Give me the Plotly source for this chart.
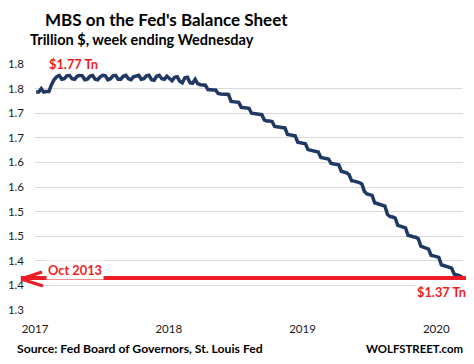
import pandas as pd
import plotly.graph_objects as go

# ---- data (trillion $, weekly, Wednesdays) ----
start_date = "2017-01-04"
mbs_values = [
    # 2017
    1.743, 1.743, 1.750, 1.743,
    1.744, 1.744, 1.758, 1.768,
    1.774, 1.777, 1.769, 1.770, 1.776,
    1.777, 1.770, 1.769, 1.775,
    1.777, 1.776, 1.768, 1.769, 1.775,
    1.777, 1.769, 1.768, 1.774,
    1.777, 1.776, 1.768, 1.770,
    1.776, 1.777, 1.769, 1.769, 1.775,
    1.777, 1.770, 1.768, 1.774,
    1.776, 1.777, 1.769, 1.770,
    1.776, 1.777, 1.768, 1.767, 1.775,
    1.777, 1.770, 1.769, 1.775,
    # 2018
    1.770, 1.766, 1.773, 1.774, 1.765,
    1.762, 1.772, 1.773, 1.762,
    1.761, 1.769, 1.760, 1.758,
    1.758, 1.757, 1.748, 1.747,
    1.747, 1.747, 1.740, 1.739, 1.739,
    1.739, 1.738, 1.724, 1.723,
    1.723, 1.722, 1.712, 1.711,
    1.711, 1.710, 1.700, 1.699, 1.699,
    1.698, 1.697, 1.686, 1.684,
    1.684, 1.683, 1.673, 1.672, 1.672,
    1.671, 1.670, 1.657, 1.656,
    1.655, 1.654, 1.641, 1.640,
    # 2019
    1.639, 1.638, 1.626, 1.625, 1.624,
    1.623, 1.621, 1.610, 1.609,
    1.608, 1.607, 1.598, 1.597,
    1.596, 1.595, 1.582, 1.580,
    1.579, 1.575, 1.563, 1.562, 1.561,
    1.559, 1.556, 1.541, 1.536,
    1.534, 1.533, 1.518, 1.516, 1.515,
    1.513, 1.511, 1.494, 1.490,
    1.489, 1.487, 1.472, 1.470,
    1.469, 1.467, 1.452, 1.450, 1.449,
    1.448, 1.445, 1.430, 1.427,
    1.426, 1.424, 1.411, 1.410,
    # 2020
    1.409, 1.407, 1.392, 1.390, 1.388,
    1.387, 1.385, 1.373, 1.372,
    1.370, 1.367,
]
dates = pd.date_range(start=start_date, periods=len(mbs_values), freq="W-WED")

y_tick_vals = [1.30, 1.35, 1.40, 1.45, 1.50, 1.55, 1.60, 1.65, 1.70, 1.75, 1.80]
y_tick_text = ["1.3", "1.4", "1.4", "1.5", "1.5", "1.6", "1.6", "1.7", "1.7", "1.8", "1.8"]
x_tick_vals = ["2017-01-01", "2018-01-01", "2019-01-01", "2020-01-01"]
x_tick_text = ["2017", "2018", "2019", "2020"]

oct2013_level = 1.365
peak_label = "$1.77 Tn"
last_label = "$1.37 Tn"

# ---- layout geometry (page has an 8px body margin) ----
OFF = 8
SW, SH = 474, 364
W, H = SW - OFF, SH - OFF
L, R, T, B = 35 - OFF, 11, 64 - OFF, 54
PW, PH = W - L - R, H - T - B

def px(x):  # screen x -> paper
    return (x - OFF - L) / PW

def py(y):  # screen y -> paper
    return (H - B - (y - OFF)) / PH

FONT = "Lato"
RED = "#ed1c24"
NAVY = "#1f3864"

fig = go.Figure()
fig.add_trace(go.Scatter(
    x=dates, y=mbs_values, mode="lines",
    line=dict(color=NAVY, width=3.5), hoverinfo="skip", showlegend=False,
))

fig.update_layout(
    width=W, height=H,
    margin=dict(l=L, r=R, t=T, b=B, autoexpand=False),
    paper_bgcolor="white", plot_bgcolor="white",
    font=dict(family=FONT, color="#262626", size=12),
    xaxis=dict(
        range=["2017-01-01", "2020-03-14"],
        tickvals=x_tick_vals, ticktext=x_tick_text,
        showgrid=False, zeroline=False, showline=False, automargin=False,
        ticks="", ticklabelstandoff=10,
        tickfont=dict(size=11.5, family=FONT, color="#1a1a1a"),
    ),
    yaxis=dict(
        range=[1.3, 1.8],
        tickvals=y_tick_vals, ticktext=y_tick_text,
        showgrid=True, gridcolor="#d9d9d9", gridwidth=1,
        zeroline=False, showline=False, automargin=False,
        ticks="", ticklabelstandoff=10,
        tickfont=dict(size=11.5, family=FONT, color="#1a1a1a"),
    ),
)

# red arrow line (Oct 2013 level)
fig.add_shape(type="line", xref="paper", yref="y",
              x0=px(SW + 2), x1=px(21), y0=oct2013_level, y1=oct2013_level,
              line=dict(color=RED, width=4), layer="above")
fig.add_shape(type="line", xref="paper", yref="paper",
              x0=px(21), y0=py(279), x1=px(42), y1=py(272),
              line=dict(color=RED, width=3), layer="above")
fig.add_shape(type="line", xref="paper", yref="paper",
              x0=px(21), y0=py(279), x1=px(43), y1=py(286),
              line=dict(color=RED, width=3), layer="above")

# text blocks placed by their centres (screen px)
def label(text, cx, cy, size, color="black", bg=None):
    d = dict(text="<b>" + text + "</b>", x=px(cx), y=py(cy),
             xref="paper", yref="paper", xanchor="center", yanchor="middle",
             showarrow=False, font=dict(size=size, family=FONT, color=color))
    if bg:
        d.update(bgcolor=bg, borderpad=1)
    return d

ann = [
    label("MBS on the Fed's Balance Sheet", 166.5, 19, 17),
    label("Trillion $, week ending Wednesday", 142, 39, 14.5),
    label(peak_label, 73, 64, 12.8, RED, "white"),
    label("Oct 2013", 75, 270, 12.8, RED, "white"),
    label(last_label, 441, 292, 12.8, RED, "white"),
    label("Source: Fed Board of Governors, St. Louis Fed", 140, 348, 12.2),
    label("WOLFSTREET.com", 414.5, 348, 11.4),
]
fig.update_layout(annotations=ann)

fig.write_html("out.html", config={"displayModeBar": False})
